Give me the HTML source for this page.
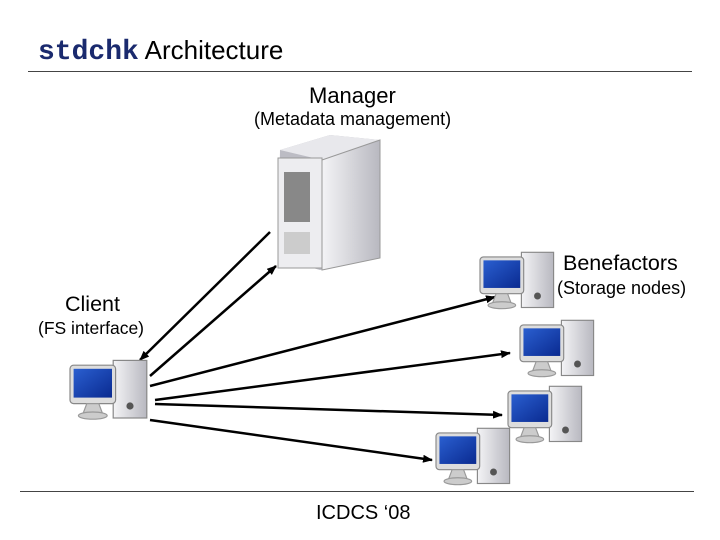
<!DOCTYPE html>
<html><head><style>
body{margin:0;width:720px;height:540px;background:#fff;position:relative;overflow:hidden;font-family:"Liberation Sans",sans-serif}
.t{position:absolute;white-space:nowrap;color:#000}
</style></head><body>
<div class="t" style="left:38px;top:35px;font-size:26px"><span style="font-family:'Liberation Mono',monospace;font-weight:bold;font-size:28px;color:#1a2a6e">stdchk</span> Architecture</div>
<div style="position:absolute;left:28px;top:71px;width:664px;height:1px;background:#444"></div>
<div style="position:absolute;left:20px;top:491px;width:674px;height:1px;background:#444"></div>
<div class="t" style="left:309px;top:83px;font-size:22px">Manager</div>
<div class="t" style="left:254px;top:109px;font-size:18px">(Metadata management)</div>
<div class="t" style="left:563px;top:251px;font-size:21.5px">Benefactors</div>
<div class="t" style="left:557px;top:278px;font-size:18px">(Storage nodes)</div>
<div class="t" style="left:65px;top:292px;font-size:21.5px">Client</div>
<div class="t" style="left:38px;top:318px;font-size:17.5px">(FS interface)</div>
<div class="t" style="left:316px;top:502px;font-size:20px">ICDCS ‘08</div>
<svg width="720" height="540" style="position:absolute;left:0;top:0">
<defs>
<marker id="a" markerWidth="10" markerHeight="8" refX="9" refY="4" orient="auto" markerUnits="userSpaceOnUse"><path d="M0,0L10,4L0,8z" fill="#000"/></marker>
<linearGradient id="sv" x1="0" x2="1"><stop offset="0" stop-color="#f4f4f6"/><stop offset="1" stop-color="#b8b8c0"/></linearGradient>
<linearGradient id="sc" x1="0" y1="0" x2="1" y2="1"><stop offset="0" stop-color="#2a5fd0"/><stop offset="1" stop-color="#0a2a90"/></linearGradient>
<g id="pc">
<rect x="36" y="2" width="28" height="48" fill="url(#sv)" stroke="#888"/>
<circle cx="50" cy="40" r="3" fill="#555"/>
<rect x="0" y="6" width="38" height="32" rx="3" fill="#ddd" stroke="#888"/>
<rect x="3" y="9" width="32" height="24" fill="url(#sc)"/>
<path d="M14 38h10l3 8h-16z" fill="#ccc" stroke="#999"/>
<ellipse cx="19" cy="48" rx="12" ry="3" fill="#ccc" stroke="#999"/>
</g>
</defs>
<path d="M280 150L330 135L380 140L380 258L320 270L278 258z" fill="#bcbcc4"/>
<path d="M280 150L330 135L380 140L322 160z" fill="#e8e8ec"/>
<path d="M322 160L380 140L380 258L322 270z" fill="url(#sv)" stroke="#999"/>
<rect x="278" y="158" width="44" height="110" fill="#ededf0" stroke="#999"/>
<rect x="284" y="172" width="26" height="50" fill="#888"/>
<rect x="284" y="232" width="26" height="22" fill="#ccc"/>
<line x1="270" y1="232" x2="140" y2="360" stroke="#000" stroke-width="2.5" marker-end="url(#a)"/>
<line x1="150" y1="376" x2="276" y2="266" stroke="#000" stroke-width="2.5" marker-end="url(#a)"/>
<line x1="150" y1="386" x2="495" y2="297" stroke="#000" stroke-width="2.5" marker-end="url(#a)"/>
<line x1="155" y1="400" x2="510" y2="353" stroke="#000" stroke-width="2.5" marker-end="url(#a)"/>
<line x1="155" y1="404" x2="502" y2="415" stroke="#000" stroke-width="2.5" marker-end="url(#a)"/>
<line x1="150" y1="420" x2="432" y2="460" stroke="#000" stroke-width="2.5" marker-end="url(#a)"/>
<use href="#pc" transform="translate(70,358) scale(1.2)"/>
<use href="#pc" transform="translate(480,250) scale(1.15)"/>
<use href="#pc" transform="translate(520,318) scale(1.15)"/>
<use href="#pc" transform="translate(508,384) scale(1.15)"/>
<use href="#pc" transform="translate(436,426) scale(1.15)"/>
</svg>
</body></html>
